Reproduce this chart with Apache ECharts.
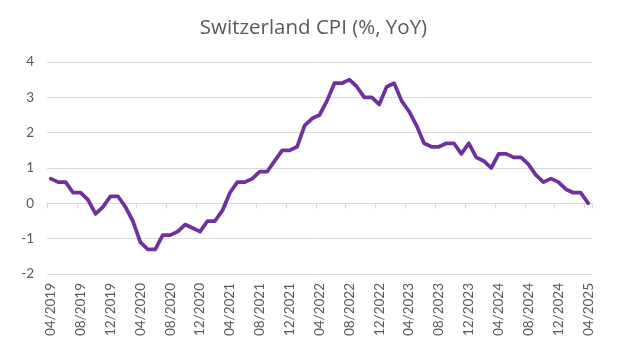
<!DOCTYPE html>
<html>
<head>
<meta charset="utf-8">
<script src="https://cdn.jsdelivr.net/npm/echarts@6/dist/echarts.min.js"></script>
<style>html,body{margin:0;padding:0;background:#fff}#c{width:627px;height:351px}</style>
</head>
<body>
<div id="c"></div>
<script>
const months = [];
(function(){ let y=2019,m=4; for(let i=0;i<73;i++){ months.push((m<10?'0':'')+m+'/'+y); m++; if(m>12){m=1;y++;} } })();
const cpiValues = [
  0.7, 0.6, 0.6, 0.3, 0.3, 0.1, -0.3, -0.1, 0.2, 0.2, -0.1, -0.5,
  -1.1, -1.3, -1.3, -0.9, -0.9, -0.8, -0.6, -0.7, -0.8, -0.5, -0.5, -0.2,
  0.3, 0.6, 0.6, 0.7, 0.9, 0.9, 1.2, 1.5, 1.5, 1.6, 2.2, 2.4,
  2.5, 2.9, 3.4, 3.4, 3.5, 3.3, 3.0, 3.0, 2.8, 3.3, 3.4, 2.9,
  2.6, 2.2, 1.7, 1.6, 1.6, 1.7, 1.7, 1.4, 1.7, 1.3, 1.2, 1.0,
  1.4, 1.4, 1.3, 1.3, 1.1, 0.8, 0.6, 0.7, 0.6, 0.4, 0.3, 0.3,
  0.0
];
const yTicks = [-2, -1, 0, 1, 2, 3, 4];
const titleText = 'Switzerland CPI (%, YoY)';

const chart = echarts.init(document.getElementById('c'));
chart.setOption({
  animation: false,
  title: {
    text: titleText, left: 'center', top: 13,
    textStyle: { fontFamily: 'Open Sans', fontSize: 20.5, fontWeight: 'normal', color: '#595959' }
  },
  grid: { left: 47, right: 35, top: 62, bottom: 77, containLabel: false },
  xAxis: [
    {
      type: 'category', data: months, boundaryGap: true, position: 'bottom',
      axisLine: { show: false, onZero: false },
      axisTick: { show: false },
      axisLabel: { interval: 3, rotate: 90, fontSize: 13.5, color: '#595959', fontFamily: 'Lato', margin: 9 }
    },
    {
      type: 'category', data: months, boundaryGap: true, position: 'top',
      axisLine: { show: true, onZero: true, lineStyle: { color: '#d9d9d9', width: 1 } },
      axisTick: { show: true, interval: 3, inside: true, length: 5, lineStyle: { color: '#d9d9d9' } },
      axisLabel: { show: false }
    }
  ],
  yAxis: {
    type: 'value', min: yTicks[0], max: yTicks[yTicks.length-1], interval: 1,
    axisLine: { show: false }, axisTick: { show: false },
    axisLabel: { fontSize: 13.5, color: '#595959', fontFamily: 'Lato', margin: 13 },
    splitLine: { lineStyle: { color: '#d9d9d9', width: 1 } }
  },
  series: [{
    type: 'line', data: cpiValues, xAxisIndex: 0,
    symbol: 'none', lineStyle: { color: '#7030A0', width: 3.75, join: 'round', cap: 'round' },
    itemStyle: { color: '#7030A0' }
  }]
});
</script>
</body>
</html>
